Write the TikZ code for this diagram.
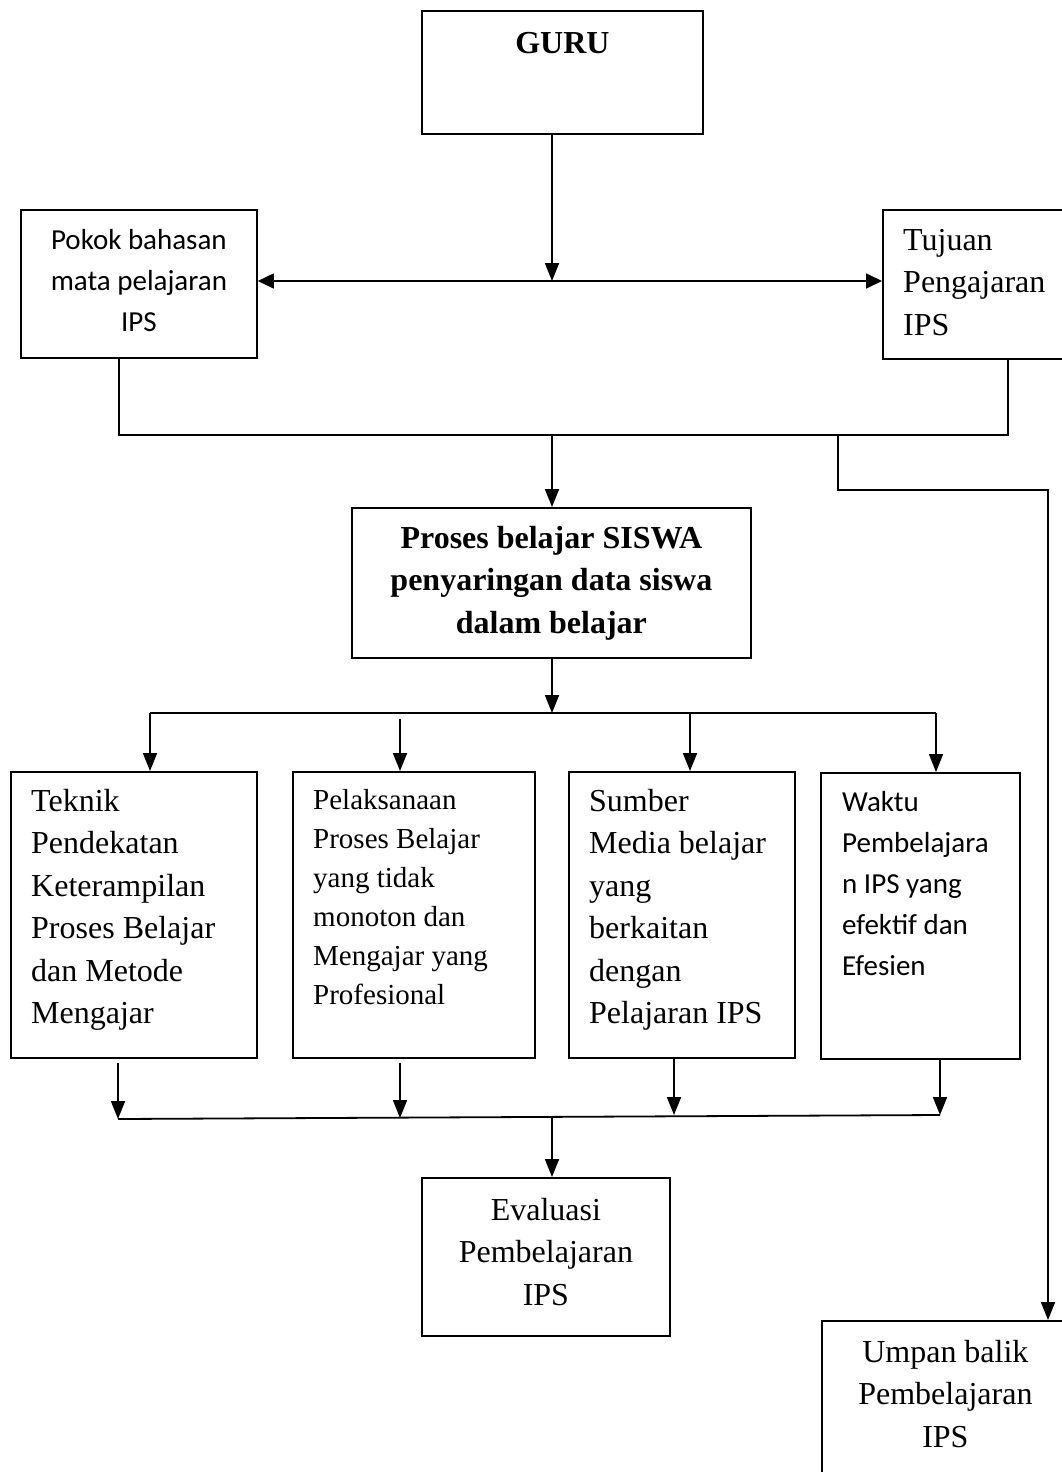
\documentclass[tikz,border=0pt]{standalone}
\usepackage{fontspec}
\setmainfont{Liberation Serif}
\newfontfamily\calibri{Carlito}
\usetikzlibrary{arrows.meta}

\tikzset{
    kotak/.style={draw, line width=1.8pt, inner sep=0pt, anchor=north west},
    garis/.style={line width=1.8pt},
    panah/.style={line width=1.8pt, -{Triangle[length=18pt, width=14pt]}},
    teks/.style={font=\fontsize{32pt}{42.5pt}\selectfont, inner sep=0pt},
    tebal/.style={font=\bfseries\fontsize{32pt}{42.5pt}\selectfont, inner sep=0pt},
    tekskecil/.style={font=\fontsize{29pt}{39pt}\selectfont, inner sep=0pt},
    hurufcalibri/.style={font=\calibri\fontsize{29pt}{41pt}\selectfont, inner sep=0pt},
}

\begin{document}
\begin{tikzpicture}[x=1pt, y=-1pt]
    \useasboundingbox (0,0) rectangle (1062,1472);
    \foreach \nama/\x/\y/\l/\t in {guru/421/10/281/123, pokok/20/209/236/148, tujuan/882/209/230/149,
        proses/351/507/399/150, teknik/10/771/246/286, pelaksanaan/292/771/242/286,
        sumber/568/771/226/286, waktu/820/772/199/286, evaluasi/421/1177/248/158, umpan/821/1320/279/200} {
        \node[kotak, minimum width=\l pt, minimum height=\t pt] (\nama) at (\x,\y) {};
    };

    \node[tebal, anchor=base] (guru-t) at ([yshift=-43pt]guru.north) {GURU};
    \node[hurufcalibri, align=center, anchor=base] (pokok-t) at ([yshift=-122pt]pokok.north) {Pokok bahasan\\mata pelajaran\\IPS};
    \node[teks, align=left, anchor=base west] (tujuan-t) at ([xshift=21pt, yshift=-126pt]tujuan.north west) {Tujuan\\Pengajaran\\IPS};
    \node[tebal, align=center, anchor=base] (proses-t) at ([yshift=-126pt]proses.north) {Proses belajar SISWA\\penyaringan data siswa\\dalam belajar};
    \node[teks, align=left, anchor=base west] (teknik-t) at ([xshift=21pt, yshift=-252.5pt]teknik.north west) {Teknik\\Pendekatan\\Keterampilan\\Proses Belajar\\dan Metode\\Mengajar};
    \node[tekskecil, align=left, anchor=base west] (pelaksanaan-t) at ([xshift=21pt, yshift=-233pt]pelaksanaan.north west) {Pelaksanaan\\Proses Belajar\\yang tidak\\monoton dan\\Mengajar yang\\Profesional};
    \node[teks, align=left, anchor=base west] (sumber-t) at ([xshift=21pt, yshift=-252.5pt]sumber.north west) {Sumber\\Media belajar\\yang\\berkaitan\\dengan\\Pelajaran IPS};
    \node[hurufcalibri, align=left, anchor=base west] (waktu-t) at ([xshift=22pt, yshift=-203pt]waktu.north west) {Waktu\\Pembelajara\\n IPS yang\\efektif dan\\Efesien};
    \node[teks, align=center, anchor=base] (evaluasi-t) at ([yshift=-128pt]evaluasi.north) {Evaluasi\\Pembelajaran\\IPS};
    \node[teks, align=center, anchor=base] (umpan-t) at ([xshift=-16pt, yshift=-127pt]umpan.north) {Umpan balik\\Pembelajaran\\IPS};

    \coordinate (atas) at (552,281);
    \draw[panah] (guru.south -| atas) -- (atas);
    \draw[garis, {Triangle[length=16pt, width=15pt]}-{Triangle[length=16pt, width=15pt]}] (atas -| pokok.east) -- (atas -| tujuan.west);

    \coordinate (gabung) at (552,435);
    \coordinate (cabang) at (838,435);
    \draw[garis] ([xshift=-20pt]pokok.south) |- (gabung) -| ([xshift=126pt]tujuan.south west);
    \draw[panah] (gabung) -- (gabung |- proses.north);
    \draw[panah] (cabang) -- ++(0,55) -| ([xshift=227pt]umpan.north west);

    \coordinate (bagi) at (552,713);
    \draw[panah] (proses.south -| bagi) -- (bagi);
    \draw[garis] (150,0 |- bagi) -- (936,0 |- bagi);
    \foreach \nama/\x/\g in {teknik/150/0, pelaksanaan/400/6, sumber/690/0, waktu/936/0} {
        \draw[panah] (\x,0 |- bagi) ++(0,\g) -- (\x,0 |- \nama.north);
    };

    \coordinate (kumpul) at (552,1117);
    \draw[garis] (118,1119) -- (940,1115);
    \foreach \nama/\x/\g/\y in {teknik/118/4/1119, pelaksanaan/400/4/1118, sumber/674/0/1115, waktu/940/0/1115} {
        \draw[panah] (\x,0 |- \nama.south) ++(0,\g) -- (\x,\y);
    };
    \draw[panah] (kumpul) -- (kumpul |- evaluasi.north);
\end{tikzpicture}
\end{document}
